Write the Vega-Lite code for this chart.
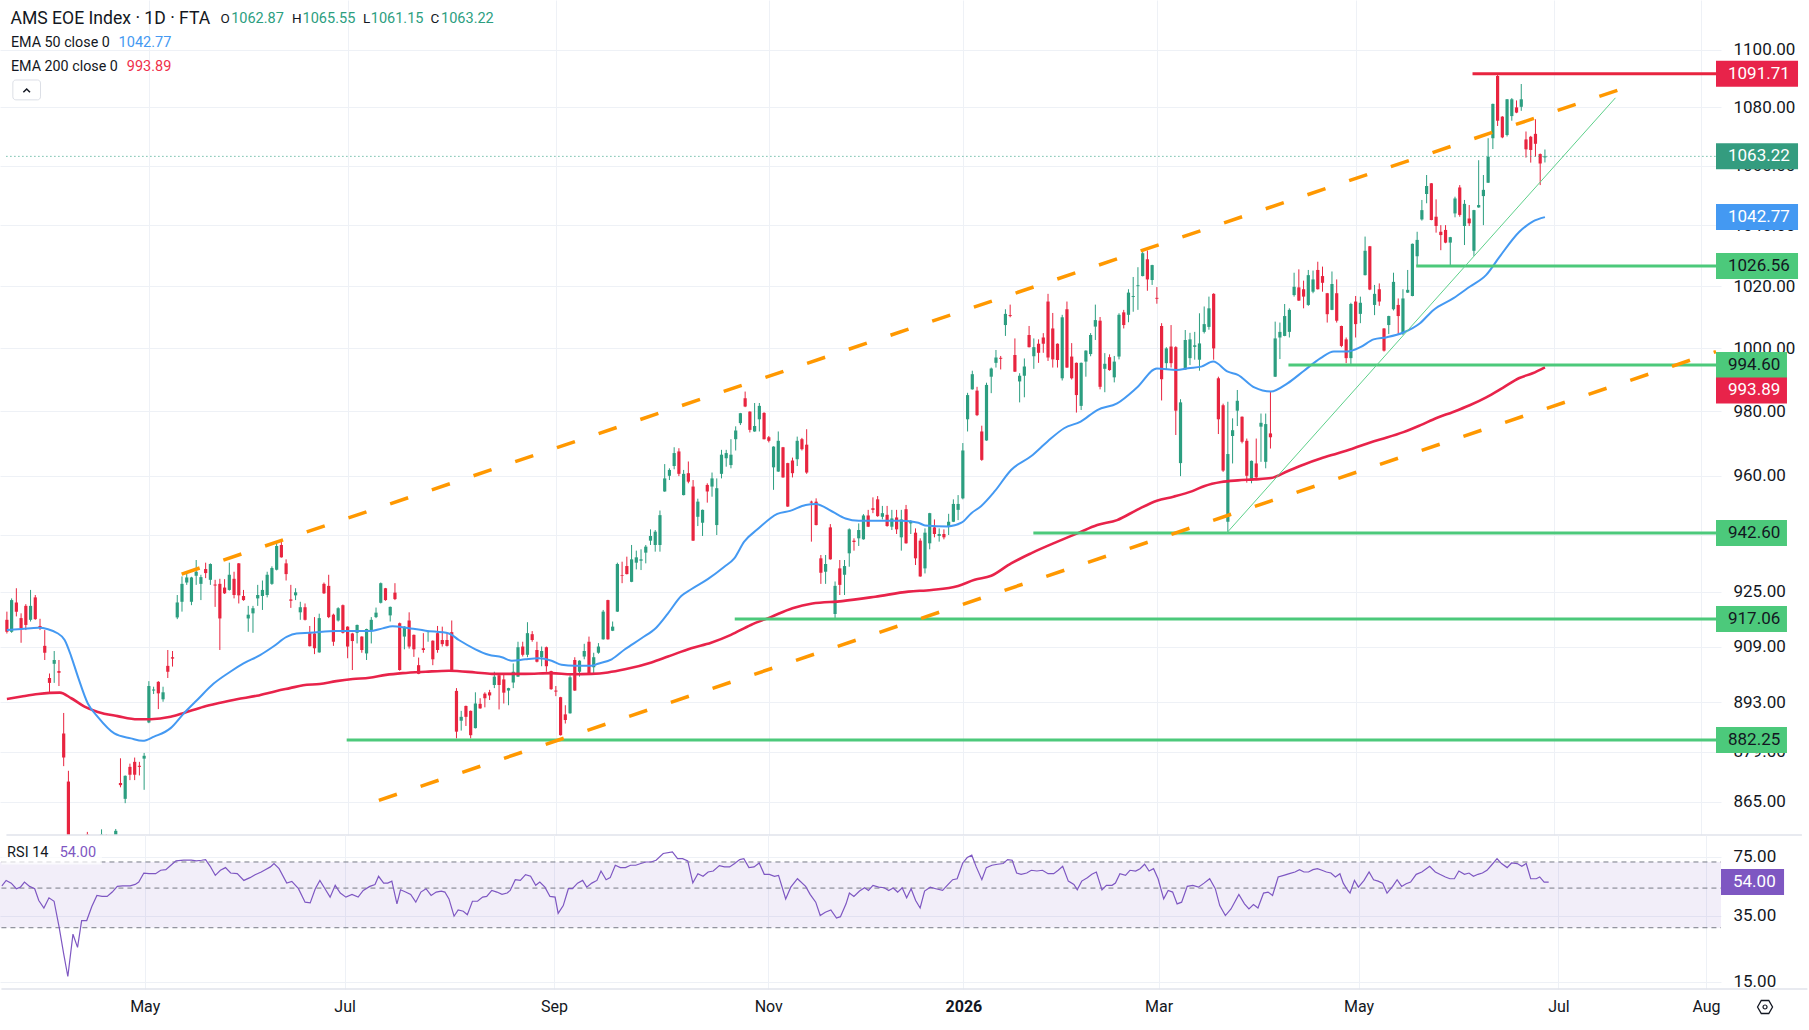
{
"$schema": "https://vega.github.io/schema/vega-lite/v6.json",
"padding": 0,
"background": "white",
"spacing": 0,
"bounds": "flush",
"config": {"view": {"stroke": null}, "font": "Roboto", "axis": {"gridColor": "#eef1f6", "gridWidth": 1, "labelColor": "#131722", "domain": false, "ticks": false, "tickSize": 0}},
"datasets": {
"candles": [
{"i":0,"o":916.8,"h":919.2,"l":912.8,"c":913.3},{"i":1,"o":913.3,"h":923.1,"l":913.0,"c":922.6},{"i":2,"o":921.9,"h":926.1,"l":917.8,"c":919.2},{"i":3,"o":917.3,"h":918.7,"l":910.1,"c":914.3},{"i":4,"o":920.9,"h":921.4,"l":913.8,"c":915.3},{"i":5,"o":916.8,"h":925.6,"l":916.3,"c":920.9},{"i":6,"o":923.4,"h":924.1,"l":916.8,"c":917.0},{"i":7,"o":915.0,"h":917.1,"l":913.8,"c":914.6},{"i":8,"o":909.2,"h":913.8,"l":905.1,"c":907.2},{"i":9,"o":899.9,"h":901.2,"l":895.5,"c":898.5},
{"i":10,"o":904.0,"h":907.7,"l":898.5,"c":905.1},{"i":11,"o":901.9,"h":905.1,"l":897.6,"c":901.4},{"i":12,"o":884.1,"h":889.9,"l":874.9,"c":877.3},{"i":13,"o":870.6,"h":873.6,"l":830.0,"c":836.0},{"i":14,"o":822,"h":830,"l":790,"c":815},{"i":15,"o":832,"h":846,"l":826,"c":838},{"i":16,"o":826,"h":836,"l":812,"c":820},{"i":17,"o":856,"h":856.7,"l":841,"c":846},{"i":18,"o":845,"h":851,"l":836,"c":849},{"i":19,"o":852,"h":855,"l":846,"c":853},
{"i":20,"o":850,"h":857.4,"l":848,"c":856},{"i":21,"o":855,"h":856,"l":845,"c":849},{"i":22,"o":850,"h":855,"l":846,"c":853},{"i":23,"o":849,"h":857.5,"l":845,"c":857},{"i":24,"o":870.2,"h":877.1,"l":869.0,"c":869.6},{"i":25,"o":865.8,"h":872.3,"l":864.6,"c":872.2},{"i":26,"o":874.7,"h":875.6,"l":871.0,"c":872.5},{"i":27,"o":876.1,"h":877.3,"l":871.0,"c":872.5},{"i":28,"o":875.0,"h":876.1,"l":872.3,"c":874.7},{"i":29,"o":877.0,"h":878.6,"l":868.3,"c":877.8},
{"i":30,"o":887.2,"h":899.0,"l":887.0,"c":897.6},{"i":31,"o":896.3,"h":897.4,"l":895.3,"c":896.6},{"i":32,"o":898.8,"h":899.0,"l":891.0,"c":895.5},{"i":33,"o":893.8,"h":897.4,"l":893.1,"c":895.8},{"i":34,"o":903.4,"h":908.0,"l":899.9,"c":901.7},{"i":35,"o":905.9,"h":907.7,"l":903.2,"c":905.5},{"i":36,"o":917.5,"h":924.1,"l":917.0,"c":921.9},{"i":37,"o":922.1,"h":929.6,"l":919.2,"c":927.4},{"i":38,"o":927.8,"h":931.0,"l":927.1,"c":929.3},{"i":39,"o":922.1,"h":929.5,"l":921.1,"c":929.3},
{"i":40,"o":929.8,"h":934.5,"l":927.1,"c":931.0},{"i":41,"o":927.4,"h":930.1,"l":922.6,"c":929.4},{"i":42,"o":931.8,"h":933.7,"l":929.1,"c":930.6},{"i":43,"o":928.6,"h":933.5,"l":927.1,"c":933.3},{"i":44,"o":927.2,"h":928.6,"l":920.6,"c":926.9},{"i":45,"o":927.4,"h":928.9,"l":908.0,"c":917.2},{"i":46,"o":926.3,"h":928.8,"l":924.4,"c":924.6},{"i":47,"o":925.6,"h":933.7,"l":925.4,"c":930.1},{"i":48,"o":928.9,"h":931.0,"l":923.1,"c":924.1},{"i":49,"o":933.5,"h":933.6,"l":921.6,"c":924.0},
{"i":50,"o":923.8,"h":925.6,"l":922.4,"c":922.6},{"i":51,"o":917.2,"h":920.9,"l":913.3,"c":918.3},{"i":52,"o":918.7,"h":920.9,"l":913.0,"c":920.2},{"i":53,"o":923.1,"h":927.1,"l":920.9,"c":924.1},{"i":54,"o":923.8,"h":928.4,"l":919.7,"c":925.6},{"i":55,"o":924.1,"h":931.0,"l":923.4,"c":930.1},{"i":56,"o":927.4,"h":932.6,"l":927.1,"c":932.1},{"i":57,"o":931.6,"h":940.0,"l":931.4,"c":938.7},{"i":58,"o":939.0,"h":940.5,"l":935.2,"c":935.3},{"i":59,"o":933.5,"h":934.7,"l":928.4,"c":930.3},
{"i":60,"o":922.8,"h":927.1,"l":920.3,"c":922.4},{"i":61,"o":924.0,"h":926.1,"l":922.6,"c":924.9},{"i":62,"o":919.0,"h":922.1,"l":916.8,"c":920.5},{"i":63,"o":920.5,"h":921.6,"l":916.6,"c":916.8},{"i":64,"o":913.0,"h":915.0,"l":909.0,"c":909.1},{"i":65,"o":912.8,"h":917.6,"l":906.8,"c":908.5},{"i":66,"o":907.3,"h":918.6,"l":907.2,"c":917.3},{"i":67,"o":927.4,"h":927.8,"l":924.4,"c":924.6},{"i":68,"o":926.8,"h":930.1,"l":917.3,"c":917.6},{"i":69,"o":918.3,"h":918.6,"l":909.2,"c":910.4},
{"i":70,"o":916.6,"h":920.5,"l":916.3,"c":920.2},{"i":71,"o":921.1,"h":921.3,"l":912.8,"c":913.0},{"i":72,"o":914.8,"h":914.9,"l":905.6,"c":909.0},{"i":73,"o":912.8,"h":913.0,"l":902.2,"c":910.6},{"i":74,"o":913.0,"h":915.4,"l":909.9,"c":915.3},{"i":75,"o":911.9,"h":912.0,"l":907.2,"c":908.0},{"i":76,"o":907.0,"h":914.2,"l":905.1,"c":914.1},{"i":77,"o":913.8,"h":917.6,"l":909.9,"c":916.8},{"i":78,"o":917.6,"h":920.4,"l":917.3,"c":918.9},{"i":79,"o":921.8,"h":927.8,"l":921.6,"c":927.6},
{"i":80,"o":926.1,"h":926.2,"l":922.4,"c":922.6},{"i":81,"o":918.1,"h":920.7,"l":916.3,"c":920.6},{"i":82,"o":924.8,"h":927.6,"l":922.6,"c":922.9},{"i":83,"o":915.8,"h":916.0,"l":902.0,"c":902.2},{"i":84,"o":911.9,"h":914.9,"l":908.2,"c":914.8},{"i":85,"o":916.6,"h":919.0,"l":908.4,"c":909.0},{"i":86,"o":912.4,"h":912.5,"l":906.0,"c":908.2},{"i":87,"o":903.6,"h":905.8,"l":901.0,"c":901.1},{"i":88,"o":908.5,"h":912.9,"l":907.2,"c":908.0},{"i":89,"o":913.2,"h":913.5,"l":910.4,"c":913.4},
{"i":90,"o":910.7,"h":910.8,"l":903.6,"c":905.3},{"i":91,"o":912.9,"h":915.0,"l":907.2,"c":908.0},{"i":92,"o":910.9,"h":914.8,"l":909.0,"c":909.7},{"i":93,"o":910.9,"h":912.9,"l":909.0,"c":909.2},{"i":94,"o":913.2,"h":916.6,"l":902.0,"c":902.1},{"i":95,"o":896.2,"h":897.0,"l":882.7,"c":884.6},{"i":96,"o":887.7,"h":890.5,"l":884.9,"c":888.8},{"i":97,"o":891.9,"h":892.0,"l":886.2,"c":888.8},{"i":98,"o":890.5,"h":890.6,"l":882.7,"c":883.6},{"i":99,"o":885.6,"h":895.8,"l":885.5,"c":892.6},
{"i":100,"o":892.5,"h":894.1,"l":891.1,"c":891.2},{"i":101,"o":895.4,"h":895.8,"l":891.5,"c":894.1},{"i":102,"o":895.8,"h":896.5,"l":893.6,"c":894.9},{"i":103,"o":897.9,"h":901.7,"l":897.0,"c":900.3},{"i":104,"o":900.7,"h":900.8,"l":890.9,"c":897.9},{"i":105,"o":899.5,"h":901.3,"l":892.6,"c":895.7},{"i":106,"o":896.3,"h":897.1,"l":892.1,"c":897.0},{"i":107,"o":898.6,"h":904.1,"l":897.0,"c":901.7},{"i":108,"o":900.3,"h":910.4,"l":900.2,"c":908.8},{"i":109,"o":909.0,"h":910.4,"l":906.1,"c":906.6},
{"i":110,"o":906.6,"h":916.1,"l":905.9,"c":912.9},{"i":111,"o":912.6,"h":913.5,"l":910.4,"c":910.9},{"i":112,"o":908.0,"h":910.4,"l":904.4,"c":904.6},{"i":113,"o":905.9,"h":909.0,"l":903.3,"c":907.7},{"i":114,"o":908.8,"h":909.0,"l":901.7,"c":903.3},{"i":115,"o":901.9,"h":902.0,"l":896.5,"c":896.7},{"i":116,"o":896.3,"h":897.6,"l":894.7,"c":896.0},{"i":117,"o":894.4,"h":894.5,"l":883.5,"c":883.6},{"i":118,"o":889.5,"h":892.1,"l":886.9,"c":887.9},{"i":119,"o":889.8,"h":900.7,"l":889.7,"c":900.1},
{"i":120,"o":905.1,"h":905.9,"l":896.2,"c":896.3},{"i":121,"o":901.7,"h":905.0,"l":900.3,"c":904.9},{"i":122,"o":906.1,"h":909.8,"l":905.3,"c":907.7},{"i":123,"o":910.4,"h":911.9,"l":901.0,"c":901.3},{"i":124,"o":903.0,"h":907.2,"l":901.1,"c":905.9},{"i":125,"o":907.2,"h":910.0,"l":906.9,"c":909.0},{"i":126,"o":911.1,"h":919.7,"l":911.0,"c":919.2},{"i":127,"o":922.6,"h":922.7,"l":911.0,"c":911.1},{"i":128,"o":913.6,"h":916.3,"l":913.5,"c":914.8},{"i":129,"o":919.2,"h":933.7,"l":919.1,"c":933.3},
{"i":130,"o":930.0,"h":934.0,"l":927.6,"c":929.8},{"i":131,"o":932.7,"h":935.5,"l":930.2,"c":930.3},{"i":132,"o":928.0,"h":939.0,"l":927.9,"c":934.7},{"i":133,"o":933.7,"h":937.3,"l":931.7,"c":935.3},{"i":134,"o":934.3,"h":937.7,"l":931.5,"c":934.7},{"i":135,"o":936.7,"h":939.0,"l":933.5,"c":938.5},{"i":136,"o":940.3,"h":943.7,"l":939.0,"c":941.7},{"i":137,"o":939.0,"h":943.5,"l":937.0,"c":943.0},{"i":138,"o":939.0,"h":949.4,"l":937.0,"c":948.0},{"i":139,"o":955.2,"h":963.6,"l":955.1,"c":959.2},
{"i":140,"o":960.0,"h":962.3,"l":958.7,"c":961.8},{"i":141,"o":963.0,"h":968.8,"l":962.0,"c":967.0},{"i":142,"o":967.5,"h":968.5,"l":959.9,"c":960.6},{"i":143,"o":954.1,"h":961.8,"l":954.0,"c":960.6},{"i":144,"o":960.8,"h":964.4,"l":957.7,"c":958.2},{"i":145,"o":956.7,"h":958.7,"l":940.2,"c":940.3},{"i":146,"o":947.5,"h":953.0,"l":944.7,"c":952.1},{"i":147,"o":945.7,"h":949.7,"l":941.7,"c":949.6},{"i":148,"o":957.2,"h":957.7,"l":951.8,"c":955.2},{"i":149,"o":956.7,"h":961.0,"l":953.6,"c":959.2},
{"i":150,"o":945.0,"h":959.2,"l":942.0,"c":956.2},{"i":151,"o":960.6,"h":968.0,"l":959.2,"c":966.5},{"i":152,"o":965.4,"h":968.0,"l":962.8,"c":967.0},{"i":153,"o":963.3,"h":971.3,"l":962.3,"c":966.5},{"i":154,"o":971.3,"h":975.3,"l":967.8,"c":974.0},{"i":155,"o":976.3,"h":979.5,"l":975.7,"c":979.4},{"i":156,"o":984.1,"h":986.2,"l":981.3,"c":981.5},{"i":157,"o":979.9,"h":980.0,"l":973.4,"c":974.2},{"i":158,"o":973.7,"h":982.6,"l":973.6,"c":975.4},{"i":159,"o":977.5,"h":982.6,"l":973.7,"c":981.7},
{"i":160,"o":979.5,"h":979.7,"l":971.2,"c":971.3},{"i":161,"o":971.9,"h":972.3,"l":970.3,"c":970.8},{"i":162,"o":962.6,"h":969.1,"l":955.7,"c":969.0},{"i":163,"o":961.3,"h":973.7,"l":961.2,"c":970.8},{"i":164,"o":968.8,"h":968.9,"l":959.4,"c":959.5},{"i":165,"o":963.9,"h":964.0,"l":950.5,"c":950.6},{"i":166,"o":964.7,"h":965.6,"l":959.5,"c":960.8},{"i":167,"o":965.1,"h":972.1,"l":963.0,"c":970.8},{"i":168,"o":971.3,"h":971.7,"l":967.8,"c":968.2},{"i":169,"o":969.6,"h":974.4,"l":960.6,"c":961.0},
{"i":170,"o":952.1,"h":952.4,"l":940.0,"c":951.8},{"i":171,"o":952.1,"h":953.1,"l":944.9,"c":945.0},{"i":172,"o":935.0,"h":936.0,"l":927.4,"c":930.7},{"i":173,"o":931.0,"h":936.0,"l":927.4,"c":933.3},{"i":174,"o":944.3,"h":945.3,"l":934.6,"c":934.7},{"i":175,"o":918.5,"h":928.1,"l":917.3,"c":926.8},{"i":176,"o":932.0,"h":934.5,"l":924.1,"c":927.1},{"i":177,"o":930.1,"h":934.5,"l":924.1,"c":932.7},{"i":178,"o":936.5,"h":944.0,"l":932.5,"c":943.7},{"i":179,"o":940.3,"h":941.0,"l":937.3,"c":939.9},
{"i":180,"o":941.0,"h":945.5,"l":938.7,"c":943.5},{"i":181,"o":940.7,"h":948.3,"l":940.6,"c":947.9},{"i":182,"o":947.9,"h":949.6,"l":944.4,"c":944.5},{"i":183,"o":950.1,"h":953.4,"l":948.6,"c":949.6},{"i":184,"o":952.8,"h":953.8,"l":947.5,"c":947.7},{"i":185,"o":947.5,"h":950.8,"l":946.7,"c":948.6},{"i":186,"o":948.1,"h":950.8,"l":944.5,"c":944.7},{"i":187,"o":944.5,"h":949.6,"l":943.5,"c":947.0},{"i":188,"o":947.3,"h":949.6,"l":942.3,"c":943.7},{"i":189,"o":941.3,"h":949.6,"l":937.3,"c":946.7},
{"i":190,"o":949.8,"h":951.1,"l":939.4,"c":939.5},{"i":191,"o":945.5,"h":946.5,"l":942.3,"c":946.0},{"i":192,"o":942.7,"h":944.0,"l":933.0,"c":935.0},{"i":193,"o":940.3,"h":941.0,"l":929.5,"c":929.6},{"i":194,"o":932.0,"h":944.0,"l":930.5,"c":942.7},{"i":195,"o":939.5,"h":948.7,"l":937.7,"c":948.6},{"i":196,"o":944.3,"h":946.7,"l":941.3,"c":942.3},{"i":197,"o":941.7,"h":944.0,"l":940.0,"c":942.3},{"i":198,"o":942.3,"h":943.7,"l":940.7,"c":941.3},{"i":199,"o":944.5,"h":948.4,"l":942.0,"c":946.0},
{"i":200,"o":946.0,"h":952.8,"l":945.9,"c":951.4},{"i":201,"o":949.6,"h":954.1,"l":946.5,"c":951.4},{"i":202,"o":953.1,"h":970.1,"l":952.8,"c":967.8},{"i":203,"o":977.5,"h":985.8,"l":973.7,"c":985.1},{"i":204,"o":986.9,"h":992.8,"l":986.8,"c":991.7},{"i":205,"o":986.5,"h":987.7,"l":978.5,"c":978.8},{"i":206,"o":973.7,"h":975.5,"l":964.6,"c":964.9},{"i":207,"o":970.9,"h":989.0,"l":970.8,"c":988.3},{"i":208,"o":990.9,"h":993.8,"l":985.7,"c":993.5},{"i":209,"o":995.3,"h":999.4,"l":993.8,"c":997.0},
{"i":210,"o":996.9,"h":997.5,"l":993.2,"c":996.6},{"i":211,"o":1007.4,"h":1012.5,"l":1003.9,"c":1011.0},{"i":212,"o":1010.6,"h":1014.0,"l":1009.9,"c":1010.3},{"i":213,"o":997.8,"h":1003.1,"l":992.4,"c":992.5},{"i":214,"o":989.4,"h":992.0,"l":982.8,"c":991.2},{"i":215,"o":991.2,"h":996.7,"l":984.4,"c":994.1},{"i":216,"o":1004.2,"h":1007.1,"l":1000.2,"c":1000.3},{"i":217,"o":997.4,"h":1003.1,"l":993.4,"c":1000.3},{"i":218,"o":1001.4,"h":1002.8,"l":995.3,"c":998.5},{"i":219,"o":1003.4,"h":1004.8,"l":998.5,"c":1001.4},
{"i":220,"o":1015.0,"h":1017.5,"l":995.9,"c":997.0},{"i":221,"o":1006.3,"h":1011.3,"l":993.8,"c":996.4},{"i":222,"o":1001.4,"h":1001.5,"l":993.8,"c":996.2},{"i":223,"o":990.4,"h":1010.7,"l":989.7,"c":1009.9},{"i":224,"o":1012.5,"h":1015.0,"l":993.7,"c":993.8},{"i":225,"o":997.3,"h":1001.6,"l":990.0,"c":990.4},{"i":226,"o":995.3,"h":995.4,"l":979.6,"c":985.1},{"i":227,"o":981.7,"h":995.4,"l":980.4,"c":995.3},{"i":228,"o":995.7,"h":999.3,"l":990.9,"c":999.2},{"i":229,"o":998.1,"h":1004.8,"l":997.4,"c":1004.2},
{"i":230,"o":1006.9,"h":1014.0,"l":1002.6,"c":1009.0},{"i":231,"o":1008.8,"h":1010.0,"l":986.9,"c":987.7},{"i":232,"o":993.4,"h":998.4,"l":986.0,"c":995.0},{"i":233,"o":997.1,"h":998.0,"l":992.8,"c":993.0},{"i":234,"o":990.7,"h":997.5,"l":989.1,"c":995.7},{"i":235,"o":997.3,"h":1011.2,"l":996.4,"c":1010.7},{"i":236,"o":1011.5,"h":1012.3,"l":1006.3,"c":1007.4},{"i":237,"o":1010.7,"h":1019.0,"l":1008.3,"c":1017.9},{"i":238,"o":1016.5,"h":1023.0,"l":1011.7,"c":1016.8},{"i":239,"o":1020.0,"h":1026.2,"l":1012.3,"c":1020.3},
{"i":240,"o":1023.3,"h":1031.7,"l":1023.2,"c":1030.8},{"i":241,"o":1028.8,"h":1031.7,"l":1018.5,"c":1022.2},{"i":242,"o":1022.0,"h":1027.0,"l":1020.4,"c":1026.9},{"i":243,"o":1016.2,"h":1019.7,"l":1014.3,"c":1015.9},{"i":244,"o":1007.1,"h":1008.0,"l":983.4,"c":990.1},{"i":245,"o":995.2,"h":1000.3,"l":993.2,"c":999.9},{"i":246,"o":1000.5,"h":1007.4,"l":993.8,"c":995.2},{"i":247,"o":1000.3,"h":1000.6,"l":972.6,"c":980.2},{"i":248,"o":963.9,"h":983.8,"l":959.9,"c":982.8},{"i":249,"o":993.2,"h":1005.8,"l":993.1,"c":1002.6},
{"i":250,"o":996.8,"h":1004.9,"l":994.6,"c":1002.8},{"i":251,"o":1000.4,"h":1005.2,"l":996.3,"c":1000.9},{"i":252,"o":996.3,"h":1011.2,"l":992.8,"c":1001.5},{"i":253,"o":1005.2,"h":1013.4,"l":1004.7,"c":1007.7},{"i":254,"o":1006.8,"h":1016.6,"l":1005.9,"c":1012.8},{"i":255,"o":1017.5,"h":1017.7,"l":996.3,"c":999.9},{"i":256,"o":990.4,"h":990.9,"l":972.9,"c":977.5},{"i":257,"o":981.9,"h":982.4,"l":961.2,"c":961.6},{"i":258,"o":946.0,"h":983.0,"l":942.6,"c":966.7},{"i":259,"o":972.3,"h":977.8,"l":963.8,"c":974.1},
{"i":260,"o":980.2,"h":986.7,"l":975.4,"c":983.3},{"i":261,"o":978.3,"h":978.4,"l":970.0,"c":970.5},{"i":262,"o":970.8,"h":971.5,"l":957.9,"c":960.0},{"i":263,"o":958.7,"h":964.7,"l":957.7,"c":964.6},{"i":264,"o":963.8,"h":971.5,"l":958.7,"c":959.5},{"i":265,"o":975.2,"h":979.3,"l":964.3,"c":976.4},{"i":266,"o":964.3,"h":979.3,"l":962.3,"c":976.0},{"i":267,"o":973.1,"h":986.2,"l":968.4,"c":971.9},{"i":268,"o":990.9,"h":1008.5,"l":990.8,"c":1003.1},{"i":269,"o":1003.4,"h":1008.2,"l":996.5,"c":1005.2},
{"i":270,"o":1003.9,"h":1014.2,"l":1003.8,"c":1010.3},{"i":271,"o":1005.2,"h":1012.8,"l":1003.4,"c":1012.3},{"i":272,"o":1017.1,"h":1024.4,"l":1016.6,"c":1019.8},{"i":273,"o":1019.6,"h":1025.5,"l":1015.2,"c":1015.3},{"i":274,"o":1019.0,"h":1021.8,"l":1012.8,"c":1016.6},{"i":275,"o":1013.9,"h":1025.3,"l":1013.6,"c":1023.6},{"i":276,"o":1018.2,"h":1025.1,"l":1017.7,"c":1022.2},{"i":277,"o":1025.3,"h":1028.0,"l":1018.9,"c":1019.0},{"i":278,"o":1023.3,"h":1026.4,"l":1018.2,"c":1021.1},{"i":279,"o":1017.7,"h":1017.8,"l":1008.2,"c":1010.9},
{"i":280,"o":1012.3,"h":1024.8,"l":1012.2,"c":1020.7},{"i":281,"o":1017.7,"h":1022.2,"l":1008.2,"c":1008.8},{"i":282,"o":1007.1,"h":1007.2,"l":1000.3,"c":1000.7},{"i":283,"o":1002.8,"h":1003.4,"l":995.2,"c":996.8},{"i":284,"o":996.8,"h":1014.6,"l":994.9,"c":1014.2},{"i":285,"o":1015.0,"h":1016.8,"l":1003.4,"c":1007.7},{"i":286,"o":1011.0,"h":1016.6,"l":1008.0,"c":1014.6},{"i":287,"o":1023.6,"h":1036.3,"l":1023.5,"c":1031.6},{"i":288,"o":1033.1,"h":1033.2,"l":1018.7,"c":1018.9},{"i":289,"o":1013.9,"h":1020.4,"l":1010.6,"c":1017.5},
{"i":290,"o":1019.0,"h":1020.9,"l":1013.6,"c":1015.0},{"i":291,"o":1006.3,"h":1006.4,"l":998.9,"c":999.2},{"i":292,"o":1007.4,"h":1010.4,"l":1004.5,"c":1010.3},{"i":293,"o":1012.5,"h":1024.4,"l":1012.1,"c":1021.4},{"i":294,"o":1013.9,"h":1016.0,"l":1004.5,"c":1010.3},{"i":295,"o":1004.7,"h":1019.0,"l":1004.2,"c":1016.0},{"i":296,"o":1017.9,"h":1025.3,"l":1017.8,"c":1018.8},{"i":297,"o":1016.8,"h":1034.0,"l":1016.7,"c":1033.9},{"i":298,"o":1029.8,"h":1037.9,"l":1026.6,"c":1035.2},{"i":299,"o":1042.0,"h":1048.5,"l":1041.6,"c":1045.1},
{"i":300,"o":1050.5,"h":1056.9,"l":1047.4,"c":1053.2},{"i":301,"o":1054.1,"h":1054.2,"l":1041.7,"c":1041.8},{"i":302,"o":1042.9,"h":1048.7,"l":1037.6,"c":1039.8},{"i":303,"o":1037.9,"h":1040.1,"l":1031.8,"c":1036.8},{"i":304,"o":1038.5,"h":1040.1,"l":1034.1,"c":1034.3},{"i":305,"o":1034.3,"h":1036.2,"l":1026.9,"c":1036.1},{"i":306,"o":1044.0,"h":1049.6,"l":1042.7,"c":1049.0},{"i":307,"o":1052.7,"h":1053.5,"l":1042.9,"c":1043.5},{"i":308,"o":1039.8,"h":1048.5,"l":1033.5,"c":1047.2},{"i":309,"o":1042.3,"h":1046.8,"l":1039.8,"c":1040.7},
{"i":310,"o":1031.6,"h":1045.2,"l":1029.9,"c":1045.1},{"i":311,"o":1046.0,"h":1061.9,"l":1045.9,"c":1046.8},{"i":312,"o":1049.8,"h":1056.9,"l":1040.1,"c":1051.9},{"i":313,"o":1054.3,"h":1069.4,"l":1054.2,"c":1063.1},{"i":314,"o":1069.4,"h":1081.3,"l":1065.7,"c":1081.2},{"i":315,"o":1090.9,"h":1091.71,"l":1073.6,"c":1075.4},{"i":316,"o":1076.8,"h":1077.0,"l":1069.4,"c":1069.7},{"i":317,"o":1070.5,"h":1082.9,"l":1070.0,"c":1082.8},{"i":318,"o":1077.0,"h":1083.2,"l":1075.4,"c":1082.8},{"i":319,"o":1080.0,"h":1082.4,"l":1078.0,"c":1078.2},
{"i":320,"o":1080.2,"h":1088.1,"l":1078.8,"c":1082.8},{"i":321,"o":1069.0,"h":1071.7,"l":1062.8,"c":1065.6},{"i":322,"o":1069.9,"h":1070.2,"l":1061.1,"c":1065.4},{"i":323,"o":1070.9,"h":1075.9,"l":1063.1,"c":1067.5},{"i":324,"o":1064.0,"h":1064.2,"l":1053.5,"c":1060.8},{"i":325,"o":1062.87,"h":1065.55,"l":1061.15,"c":1063.22}
],
"ema50": [
{"i":0,"v":913.8},{"i":3.1,"v":914.1},{"i":6.6,"v":914.5},{"i":10.8,"v":912.8},{"i":12.2,"v":910.9},{"i":13.6,"v":906.1},{"i":15.0,"v":900.3},{"i":17.1,"v":892.6},{"i":19.2,"v":888.8},{"i":22.7,"v":884.1},{"i":26.2,"v":882.7},{"i":28.7,"v":882.0},{"i":31.1,"v":883.2},{"i":34.6,"v":885.6},{"i":37.4,"v":889.8},{"i":40.2,"v":893.6},{"i":43.7,"v":898.3},{"i":47.2,"v":901.7},{"i":50.0,"v":904.1},{"i":53.5,"v":906.5},{"i":56.3,"v":909.0},{"i":59.1,"v":911.8},{"i":61.2,"v":912.8},{"i":64.0,"v":913.0},{"i":69.6,"v":913.5},{"i":76.6,"v":913.5},{"i":79.4,"v":914.3},{"i":81.5,"v":914.9},{"i":84.3,"v":914.5},{"i":88.5,"v":913.6},{"i":93.4,"v":912.8},{"i":95.5,"v":910.9},{"i":99.0,"v":908.2},{"i":101.8,"v":906.6},{"i":104.6,"v":905.9},{"i":106.7,"v":904.9},{"i":109.5,"v":905.3},{"i":112.3,"v":905.6},{"i":115.1,"v":904.9},{"i":117.2,"v":903.7},{"i":120.0,"v":903.4},{"i":123.5,"v":903.4},{"i":124.9,"v":904.0},{"i":127.8,"v":905.3},{"i":130.6,"v":908.2},{"i":134.1,"v":911.4},{"i":137.2,"v":914.5},{"i":139.7,"v":918.7},{"i":142.5,"v":923.8},{"i":144.6,"v":925.8},{"i":148.1,"v":928.8},{"i":151.6,"v":932.5},{"i":153.7,"v":935.0},{"i":155.8,"v":940.0},{"i":158.6,"v":943.7},{"i":162.8,"v":948.4},{"i":165.5,"v":949.3},{"i":168.8,"v":951.1},{"i":170.9,"v":951.4},{"i":174.4,"v":949.1},{"i":177.2,"v":947.0},{"i":180.0,"v":946.3},{"i":184.2,"v":946.3},{"i":189.1,"v":946.3},{"i":192.6,"v":945.7},{"i":194.0,"v":944.9},{"i":198.9,"v":944.6},{"i":201.7,"v":945.7},{"i":203.8,"v":948.6},{"i":205.9,"v":950.8},{"i":208.7,"v":955.2},{"i":212.2,"v":961.8},{"i":216.4,"v":966.0},{"i":219.9,"v":970.6},{"i":223.4,"v":974.7},{"i":226.9,"v":976.8},{"i":230.4,"v":980.4},{"i":234.6,"v":982.5},{"i":238.8,"v":987.5},{"i":243.0,"v":993.5},{"i":247.2,"v":993.0},{"i":249.6,"v":993.6},{"i":252.4,"v":994.1},{"i":254.9,"v":995.7},{"i":258.0,"v":992.5},{"i":260.1,"v":991.5},{"i":263.6,"v":987.5},{"i":267.1,"v":986.2},{"i":270.6,"v":988.8},{"i":274.1,"v":992.8},{"i":277.6,"v":996.8},{"i":280.4,"v":998.9},{"i":283.2,"v":998.9},{"i":286.0,"v":1000.3},{"i":288.8,"v":1002.8},{"i":291.6,"v":1003.5},{"i":295.1,"v":1005.0},{"i":298.6,"v":1008.0},{"i":301.4,"v":1012.2},{"i":305.6,"v":1016.0},{"i":309.1,"v":1019.8},{"i":312.6,"v":1023.7},{"i":315.4,"v":1029.6},{"i":319.6,"v":1037.9},{"i":322.4,"v":1041.3},{"i":325.0,"v":1042.77}
],
"ema200": [
{"i":0,"v":893.9},{"i":3.1,"v":894.6},{"i":6.6,"v":895.3},{"i":11.2,"v":895.7},{"i":13.6,"v":894.1},{"i":16.4,"v":891.7},{"i":19.2,"v":890.2},{"i":23.4,"v":889.0},{"i":27.6,"v":888.1},{"i":30.4,"v":888.1},{"i":34.6,"v":888.8},{"i":37.4,"v":889.9},{"i":41.6,"v":891.7},{"i":45.1,"v":892.8},{"i":48.6,"v":893.8},{"i":52.8,"v":894.8},{"i":57.0,"v":896.2},{"i":59.8,"v":897.0},{"i":62.6,"v":897.8},{"i":66.1,"v":898.2},{"i":69.6,"v":899.0},{"i":73.1,"v":899.6},{"i":76.6,"v":900.0},{"i":80.1,"v":900.8},{"i":83.6,"v":901.3},{"i":88.5,"v":901.7},{"i":93.4,"v":902.0},{"i":99.0,"v":901.5},{"i":102.5,"v":901.1},{"i":109.5,"v":901.1},{"i":115.1,"v":901.3},{"i":119.3,"v":901.0},{"i":123.5,"v":901.1},{"i":127.0,"v":901.5},{"i":130.6,"v":902.4},{"i":136.2,"v":904.4},{"i":139.7,"v":906.1},{"i":144.6,"v":908.5},{"i":148.8,"v":910.1},{"i":153.0,"v":912.4},{"i":157.2,"v":915.3},{"i":161.4,"v":917.6},{"i":166.0,"v":920.2},{"i":170.2,"v":921.6},{"i":176.5,"v":922.3},{"i":183.5,"v":923.6},{"i":190.5,"v":925.1},{"i":195.4,"v":925.6},{"i":201.0,"v":926.8},{"i":204.5,"v":928.6},{"i":208.0,"v":929.8},{"i":212.2,"v":933.5},{"i":216.4,"v":936.5},{"i":222.0,"v":940.0},{"i":226.2,"v":942.5},{"i":230.4,"v":945.0},{"i":234.6,"v":946.5},{"i":238.8,"v":949.6},{"i":243.0,"v":952.4},{"i":246.5,"v":953.6},{"i":250.5,"v":955.3},{"i":253.1,"v":956.9},{"i":256.6,"v":958.1},{"i":260.1,"v":958.6},{"i":263.6,"v":958.9},{"i":267.1,"v":959.3},{"i":270.6,"v":961.4},{"i":274.1,"v":963.5},{"i":277.6,"v":965.3},{"i":281.1,"v":966.9},{"i":284.6,"v":968.5},{"i":288.1,"v":970.3},{"i":291.6,"v":971.8},{"i":295.1,"v":973.5},{"i":298.6,"v":975.6},{"i":302.1,"v":977.9},{"i":305.6,"v":979.8},{"i":309.1,"v":981.9},{"i":312.6,"v":984.4},{"i":316.1,"v":987.4},{"i":319.6,"v":990.5},{"i":322.4,"v":992.0},{"i":325.0,"v":993.89}
],
"rsi": [
{"i":0,"r":51.5},{"i":0.89,"r":55.2},{"i":1.96,"r":53.3},{"i":3.03,"r":49.6},{"i":3.89,"r":50.6},{"i":4.74,"r":54.0},{"i":5.82,"r":51.1},{"i":6.89,"r":49.6},{"i":7.75,"r":42.6},{"i":8.82,"r":38.7},{"i":9.89,"r":44.1},{"i":10.96,"r":42.2},{"i":12.03,"r":30.1},{"i":13.0,"r":21.3},{"i":13.85,"r":16.0},{"i":14.93,"r":27.6},{"i":15.89,"r":23.3},{"i":16.75,"r":32.9},{"i":17.82,"r":32.9},{"i":18.89,"r":39.4},{"i":19.96,"r":45.5},{"i":21.04,"r":44.9},{"i":22.11,"r":44.9},{"i":23.18,"r":47.5},{"i":24.25,"r":51.1},{"i":25.32,"r":51.5},{"i":26.93,"r":51.5},{"i":28.0,"r":52.4},{"i":28.75,"r":54.0},{"i":29.82,"r":60.7},{"i":30.9,"r":60.2},{"i":32.29,"r":60.2},{"i":33.36,"r":62.9},{"i":34.43,"r":63.4},{"i":35.5,"r":67.1},{"i":36.58,"r":71.0},{"i":38.19,"r":71.6},{"i":39.79,"r":71.6},{"i":40.86,"r":71.0},{"i":41.94,"r":71.6},{"i":42.79,"r":72.2},{"i":43.76,"r":66.2},{"i":44.83,"r":58.9},{"i":45.9,"r":62.9},{"i":46.97,"r":65.1},{"i":48.05,"r":60.7},{"i":49.44,"r":60.2},{"i":50.83,"r":55.2},{"i":52.12,"r":57.2},{"i":53.19,"r":59.4},{"i":54.48,"r":61.5},{"i":55.33,"r":63.4},{"i":56.41,"r":65.7},{"i":57.16,"r":68.6},{"i":58.23,"r":64.2},{"i":59.84,"r":53.3},{"i":60.91,"r":54.5},{"i":62.3,"r":49.6},{"i":63.69,"r":41.7},{"i":64.77,"r":41.3},{"i":65.84,"r":49.6},{"i":66.8,"r":55.2},{"i":67.87,"r":49.6},{"i":68.95,"r":44.5},{"i":70.02,"r":51.8},{"i":71.09,"r":46.9},{"i":72.27,"r":44.5},{"i":73.55,"r":46.1},{"i":74.84,"r":44.5},{"i":75.91,"r":48.5},{"i":77.3,"r":51.1},{"i":78.38,"r":52.4},{"i":79.13,"r":58.2},{"i":80.2,"r":53.3},{"i":81.06,"r":53.3},{"i":81.92,"r":54.7},{"i":82.99,"r":40.8},{"i":83.74,"r":48.9},{"i":84.81,"r":47.5},{"i":85.88,"r":46.1},{"i":86.95,"r":41.7},{"i":88.02,"r":47.5},{"i":89.1,"r":49.6},{"i":90.17,"r":45.5},{"i":91.24,"r":47.5},{"i":92.31,"r":48.1},{"i":93.06,"r":47.5},{"i":93.92,"r":43.5},{"i":94.99,"r":34.8},{"i":95.85,"r":37.7},{"i":96.92,"r":37.1},{"i":97.78,"r":35.5},{"i":98.85,"r":42.2},{"i":99.92,"r":42.2},{"i":100.99,"r":44.5},{"i":101.85,"r":44.9},{"i":102.92,"r":48.5},{"i":103.99,"r":47.5},{"i":105.07,"r":46.1},{"i":106.14,"r":46.9},{"i":106.78,"r":48.5},{"i":107.85,"r":55.7},{"i":108.92,"r":55.2},{"i":110.0,"r":59.4},{"i":111.07,"r":58.2},{"i":112.14,"r":51.8},{"i":113.0,"r":54.0},{"i":114.07,"r":50.6},{"i":115.14,"r":44.9},{"i":116.21,"r":44.5},{"i":116.86,"r":36.1},{"i":117.93,"r":39.9},{"i":119.0,"r":49.6},{"i":119.86,"r":49.6},{"i":120.93,"r":53.3},{"i":122.0,"r":55.2},{"i":122.86,"r":50.6},{"i":123.93,"r":53.3},{"i":125.0,"r":55.2},{"i":125.86,"r":62.3},{"i":126.93,"r":55.7},{"i":127.79,"r":57.2},{"i":128.86,"r":67.1},{"i":129.93,"r":65.1},{"i":131.0,"r":65.1},{"i":132.07,"r":67.1},{"i":133.15,"r":67.1},{"i":134.22,"r":68.6},{"i":135.29,"r":70.0},{"i":136.36,"r":70.0},{"i":137.43,"r":71.6},{"i":138.93,"r":78.1},{"i":140.86,"r":79.7},{"i":141.94,"r":73.1},{"i":143.0,"r":73.1},{"i":144.08,"r":71.0},{"i":145.15,"r":53.5},{"i":146.22,"r":60.2},{"i":147.3,"r":58.2},{"i":148.37,"r":61.5},{"i":149.44,"r":62.3},{"i":150.73,"r":66.8},{"i":151.8,"r":65.7},{"i":152.87,"r":65.7},{"i":153.94,"r":68.6},{"i":155.01,"r":72.2},{"i":155.87,"r":73.1},{"i":156.94,"r":65.1},{"i":158.02,"r":65.7},{"i":159.09,"r":69.1},{"i":160.16,"r":59.7},{"i":161.23,"r":59.7},{"i":162.3,"r":58.2},{"i":163.16,"r":58.9},{"i":164.66,"r":43.5},{"i":165.73,"r":50.6},{"i":167.13,"r":56.4},
{"i":168.85,"r":51.1},{"i":169.79,"r":46.1},{"i":170.97,"r":41.7},{"i":171.91,"r":35.1},{"i":172.98,"r":36.6},{"i":174.15,"r":37.7},{"i":175.33,"r":34.0},{"i":176.16,"r":34.6},{"i":177.34,"r":40.8},{"i":178.04,"r":46.9},{"i":178.99,"r":44.9},{"i":180.17,"r":48.1},{"i":181.23,"r":50.2},{"i":182.05,"r":48.5},{"i":183.0,"r":51.8},{"i":184.18,"r":50.6},{"i":185.36,"r":50.2},{"i":186.3,"r":48.5},{"i":187.24,"r":50.0},{"i":188.18,"r":47.5},{"i":189.13,"r":50.2},{"i":190.07,"r":44.1},{"i":191.01,"r":49.6},{"i":191.96,"r":42.6},{"i":192.9,"r":38.7},{"i":193.84,"r":48.1},{"i":195.02,"r":50.6},{"i":196.2,"r":49.6},{"i":197.62,"r":48.5},{"i":198.79,"r":52.4},{"i":199.74,"r":55.7},{"i":200.68,"r":56.4},{"i":201.86,"r":69.1},{"i":202.8,"r":74.1},{"i":203.75,"r":76.4},{"i":204.69,"r":65.7},{"i":205.87,"r":55.7},{"i":206.81,"r":65.1},{"i":207.99,"r":67.1},{"i":209.17,"r":68.0},{"i":210.35,"r":68.6},{"i":211.29,"r":72.2},{"i":212.24,"r":71.6},{"i":213.18,"r":60.7},{"i":214.12,"r":59.7},{"i":215.3,"r":60.7},{"i":216.25,"r":62.9},{"i":217.43,"r":62.3},{"i":218.6,"r":62.9},{"i":219.78,"r":60.2},{"i":220.96,"r":60.2},{"i":221.91,"r":62.9},{"i":222.85,"r":66.2},{"i":224.03,"r":54.7},{"i":225.21,"r":52.4},{"i":225.91,"r":48.9},{"i":226.85,"r":54.7},{"i":228.03,"r":57.2},{"i":228.98,"r":59.7},{"i":229.92,"r":61.5},{"i":231.1,"r":48.9},{"i":232.04,"r":51.8},{"i":233.22,"r":51.8},{"i":233.93,"r":53.3},{"i":234.87,"r":60.2},{"i":236.05,"r":58.9},{"i":236.99,"r":62.9},{"i":238.17,"r":62.3},{"i":239.11,"r":64.2},{"i":240.06,"r":68.0},{"i":241.0,"r":62.3},{"i":241.94,"r":64.2},{"i":242.89,"r":56.4},{"i":244.07,"r":43.5},{"i":245.01,"r":48.5},{"i":245.95,"r":47.5},{"i":246.89,"r":40.8},{"i":247.84,"r":41.7},{"i":249.02,"r":51.1},{"i":250.19,"r":51.8},{"i":251.37,"r":50.6},{"i":252.55,"r":53.3},{"i":253.73,"r":56.4},{"i":254.91,"r":49.6},{"i":255.85,"r":39.9},{"i":257.03,"r":35.1},{"i":258.21,"r":38.2},{"i":259.86,"r":46.1},{"i":261.04,"r":40.8},{"i":261.98,"r":38.2},{"i":262.93,"r":40.4},{"i":263.87,"r":38.7},{"i":265.05,"r":46.9},{"i":265.99,"r":47.5},{"i":266.94,"r":45.5},{"i":268.12,"r":57.7},{"i":269.29,"r":58.9},{"i":270.47,"r":60.2},{"i":271.65,"r":61.5},{"i":272.6,"r":63.4},{"i":273.54,"r":61.5},{"i":274.48,"r":61.5},{"i":275.43,"r":63.4},{"i":276.37,"r":64.2},{"i":277.31,"r":62.9},{"i":278.26,"r":61.5},{"i":279.2,"r":60.7},{"i":280.14,"r":57.7},{"i":281.09,"r":60.2},{"i":281.79,"r":53.3},{"i":282.74,"r":48.5},{"i":283.21,"r":46.9},{"i":284.15,"r":55.2},{"i":284.98,"r":50.6},{"i":286.16,"r":55.2},{"i":287.22,"r":61.5},{"i":288.16,"r":55.7},{"i":289.11,"r":54.7},{"i":290.05,"r":53.3},{"i":290.99,"r":46.9},{"i":292.17,"r":51.1},{"i":293.11,"r":55.7},{"i":294.06,"r":51.1},{"i":295.0,"r":52.9},{"i":295.94,"r":54.0},{"i":297.12,"r":59.7},{"i":298.3,"r":61.5},{"i":299.95,"r":66.2},{"i":301.13,"r":61.5},{"i":302.07,"r":59.7},{"i":303.25,"r":57.7},{"i":304.2,"r":56.4},{"i":305.14,"r":56.4},{"i":306.08,"r":62.3},{"i":307.26,"r":59.7},{"i":308.2,"r":60.7},{"i":309.15,"r":58.2},{"i":310.09,"r":59.7},{"i":311.03,"r":60.7},{"i":311.98,"r":62.9},{"i":312.92,"r":67.1},{"i":314.1,"r":73.1},{"i":315.04,"r":68.6},{"i":316.22,"r":65.1},{"i":317.16,"r":69.1},{"i":318.34,"r":68.6},{"i":319.29,"r":66.2},{"i":320.23,"r":68.6},{"i":321.17,"r":56.4},{"i":322.35,"r":56.4},{"i":323.06,"r":57.7},{"i":324.0,"r":54.0},{"i":324.95,"r":54.0}
],
"levels": [
{"p":1091.71,"i0":309.7,"k":"res"},{"p":1026.56,"i0":297.8,"k":"sup"},{"p":994.60,"i0":270.8,"k":"sup"},{"p":942.60,"i0":216.9,"k":"sup"},{"p":917.06,"i0":153.8,"k":"sup"},{"p":882.25,"i0":71.8,"k":"sup"}
],
"trend": [
{"id":"up","i":36.93,"p":930.3},{"id":"up","i":343.7,"p":1087.8},
{"id":"lo","i":78.6,"p":865.4},{"id":"lo","i":361.15,"p":998.9},
{"id":"tl","i":257.7,"p":942.5},{"id":"tl","i":339.9,"p":1083.3}
],
"labels": [
{"p":1091.71,"t":"1091.71","k":"res"},{"p":1063.22,"t":"1063.22","k":"last"},{"p":1042.77,"t":"1042.77","k":"ema50"},{"p":1026.56,"t":"1026.56","k":"sup"},{"p":994.60,"t":"994.60","k":"sup"},{"p":993.89,"t":"993.89","k":"ema200"},{"p":942.60,"t":"942.60","k":"sup"},{"p":917.06,"t":"917.06","k":"sup"},{"p":882.25,"t":"882.25","k":"sup"}
],
"rsiLevels": [{"v":70},{"v":50},{"v":30}]
},
"vconcat": [
{
"width": 1721,
"height": 835,
"layer": [
{"data": {"name": "candles"}, "mark": {"type": "rule", "strokeWidth": 1, "clip": true},
 "encoding": {
  "x": {"field": "i", "type": "quantitative", "title": null, "scale": {"domain": [-0.4, 361.15], "nice": false, "zero": false},
        "axis": {"values": [30, 72, 116, 161, 202, 243, 285, 327, 358], "labels": false, "ticks": false, "grid": true, "domain": false}},
  "y": {"field": "l", "type": "quantitative", "title": null, "scale": {"type": "log", "domain": [855.85, 1117.72], "nice": false},
        "axis": {"orient": "right", "values": [865, 879, 893, 909, 925, 942, 960, 980, 1000, 1020, 1040, 1060, 1080, 1100], "format": ".2f", "labelPadding": 12, "labelFontSize": 17, "labelOverlap": false, "labelFlush": false, "labelBaseline": "middle", "grid": true, "zindex": 0}},
  "y2": {"field": "h"},
  "color": {"condition": {"test": "datum.c >= datum.o", "value": "#2c9e80"}, "value": "#e8243f"}}},
{"data": {"name": "candles"}, "mark": {"type": "bar", "width": 3.2, "clip": true},
 "encoding": {
  "x": {"field": "i", "type": "quantitative", "title": null},
  "y": {"field": "o", "type": "quantitative", "title": null},
  "y2": {"field": "c"},
  "color": {"condition": {"test": "datum.c >= datum.o", "value": "#2c9e80"}, "value": "#e8243f"}}},
{"data": {"name": "ema200"}, "mark": {"type": "line", "color": "#e8234a", "strokeWidth": 2.6, "interpolate": "monotone", "clip": true},
 "encoding": {"x": {"field": "i", "type": "quantitative", "title": null}, "y": {"field": "v", "type": "quantitative", "title": null}}},
{"data": {"name": "ema50"}, "mark": {"type": "line", "color": "#4499f2", "strokeWidth": 2, "interpolate": "monotone", "clip": true},
 "encoding": {"x": {"field": "i", "type": "quantitative", "title": null}, "y": {"field": "v", "type": "quantitative", "title": null}}},
{"data": {"name": "levels"}, "mark": {"type": "rule", "strokeWidth": 3, "clip": true},
 "encoding": {"x": {"field": "i0", "type": "quantitative", "title": null}, "x2": {"datum": 361.15}, "y": {"field": "p", "type": "quantitative", "title": null},
  "color": {"condition": {"test": "datum.k == 'res'", "value": "#e8243f"}, "value": "#4cc97b"}}},
{"data": {"name": "trend"}, "transform": [{"filter": "datum.id != 'tl'"}], "mark": {"type": "line", "color": "#ff9800", "strokeWidth": 3.5, "strokeDash": [19, 25], "clip": true},
 "encoding": {"x": {"field": "i", "type": "quantitative", "title": null}, "y": {"field": "p", "type": "quantitative", "title": null}, "detail": {"field": "id"}}},
{"data": {"name": "trend"}, "transform": [{"filter": "datum.id == 'tl'"}], "mark": {"type": "line", "color": "#5dd08a", "strokeWidth": 1, "clip": true},
 "encoding": {"x": {"field": "i", "type": "quantitative", "title": null}, "y": {"field": "p", "type": "quantitative", "title": null}}},
{"data": {"values": [{}]}, "mark": {"type": "rule", "color": "#2c9e80", "strokeWidth": 1, "strokeDash": [1, 3]},
 "encoding": {"x": {"datum": -0.1, "type": "quantitative"}, "x2": {"datum": 361.15}, "y": {"datum": 1063.22, "type": "quantitative"}}},
{"data": {"values": [{}]}, "mark": {"type": "rule", "color": "#e0e3eb", "strokeWidth": 1.5},
 "encoding": {"x": {"datum": -0.1, "type": "quantitative"}, "x2": {"datum": 379.3}, "y": {"datum": 855.85, "type": "quantitative"}}},
{"data": {"name": "labels"}, "transform": [{"filter": "datum.p >= 1000"}], "mark": {"type": "point", "shape": "M0,-1H6.31V1H0Z", "size": 676, "filled": true, "opacity": 1, "strokeWidth": 0},
 "encoding": {"x": {"datum": 361.15, "type": "quantitative"}, "y": {"field": "p", "type": "quantitative", "title": null},
  "color": {"condition": [{"test": "datum.k == 'res' || datum.k == 'ema200'", "value": "#e8234a"}, {"test": "datum.k == 'last'", "value": "#349c7f"}, {"test": "datum.k == 'ema50'", "value": "#4499f2"}], "value": "#4cc97b"}}},
{"data": {"name": "labels"}, "transform": [{"filter": "datum.p < 1000 && datum.k != 'ema200'"}], "mark": {"type": "point", "shape": "M0,-1H5.46V1H0Z", "size": 676, "filled": true, "opacity": 1, "strokeWidth": 0},
 "encoding": {"x": {"datum": 361.15, "type": "quantitative"}, "y": {"field": "p", "type": "quantitative", "title": null},
  "color": {"value": "#4cc97b"}}},
{"data": {"name": "labels"}, "transform": [{"filter": "datum.k == 'ema200'"}], "mark": {"type": "point", "shape": "M0,-1H5.46V1H0Z", "size": 676, "filled": true, "opacity": 1, "strokeWidth": 0, "yOffset": 23.2},
 "encoding": {"x": {"datum": 361.15, "type": "quantitative"}, "y": {"field": "p", "type": "quantitative", "title": null},
  "color": {"value": "#e8234a"}}},
{"data": {"name": "labels"}, "transform": [{"filter": "datum.k != 'ema200'"}], "mark": {"type": "text", "align": "left", "baseline": "middle", "dx": 12, "fontSize": 17},
 "encoding": {"x": {"datum": 361.15, "type": "quantitative"}, "y": {"field": "p", "type": "quantitative", "title": null}, "text": {"field": "t"},
  "color": {"condition": {"test": "datum.k == 'sup'", "value": "#131722"}, "value": "#ffffff"}}},
{"data": {"name": "labels"}, "transform": [{"filter": "datum.k == 'ema200'"}], "mark": {"type": "text", "align": "left", "baseline": "middle", "dx": 12, "fontSize": 17, "yOffset": 23.2, "color": "#ffffff"},
 "encoding": {"x": {"datum": 361.15, "type": "quantitative"}, "y": {"field": "p", "type": "quantitative", "title": null}, "text": {"field": "t"}}},
{"data": {"values": [{}]}, "mark": {"type": "text", "align": "left", "baseline": "middle", "fontSize": 17.6, "color": "#131722", "text": "AMS EOE Index · 1D · FTA"},
 "encoding": {"x": {"datum": 0.75, "type": "quantitative"}, "y": {"datum": 1110.85, "type": "quantitative"}}},
{"data": {"values": [{}]}, "mark": {"type": "text", "align": "left", "baseline": "middle", "fontSize": 13.5, "color": "#131722", "text": "O"},
 "encoding": {"x": {"datum": 45.15, "type": "quantitative"}, "y": {"datum": 1110.85, "type": "quantitative"}}},
{"data": {"values": [{}]}, "mark": {"type": "text", "align": "left", "baseline": "middle", "fontSize": 14.5, "color": "#2c9e80", "text": "1062.87"},
 "encoding": {"x": {"datum": 47.39, "type": "quantitative"}, "y": {"datum": 1110.85, "type": "quantitative"}}},
{"data": {"values": [{}]}, "mark": {"type": "text", "align": "left", "baseline": "middle", "fontSize": 13.5, "color": "#131722", "text": "H"},
 "encoding": {"x": {"datum": 60.23, "type": "quantitative"}, "y": {"datum": 1110.85, "type": "quantitative"}}},
{"data": {"values": [{}]}, "mark": {"type": "text", "align": "left", "baseline": "middle", "fontSize": 14.5, "color": "#2c9e80", "text": "1065.55"},
 "encoding": {"x": {"datum": 62.48, "type": "quantitative"}, "y": {"datum": 1110.85, "type": "quantitative"}}},
{"data": {"values": [{}]}, "mark": {"type": "text", "align": "left", "baseline": "middle", "fontSize": 13.5, "color": "#131722", "text": "L"},
 "encoding": {"x": {"datum": 75.23, "type": "quantitative"}, "y": {"datum": 1110.85, "type": "quantitative"}}},
{"data": {"values": [{}]}, "mark": {"type": "text", "align": "left", "baseline": "middle", "fontSize": 14.5, "color": "#2c9e80", "text": "1061.15"},
 "encoding": {"x": {"datum": 76.89, "type": "quantitative"}, "y": {"datum": 1110.85, "type": "quantitative"}}},
{"data": {"values": [{}]}, "mark": {"type": "text", "align": "left", "baseline": "middle", "fontSize": 13.5, "color": "#131722", "text": "C"},
 "encoding": {"x": {"datum": 89.49, "type": "quantitative"}, "y": {"datum": 1110.85, "type": "quantitative"}}},
{"data": {"values": [{}]}, "mark": {"type": "text", "align": "left", "baseline": "middle", "fontSize": 14.5, "color": "#2c9e80", "text": "1063.22"},
 "encoding": {"x": {"datum": 91.74, "type": "quantitative"}, "y": {"datum": 1110.85, "type": "quantitative"}}},
{"data": {"values": [{}]}, "mark": {"type": "text", "align": "left", "baseline": "middle", "fontSize": 14.3, "color": "#131722", "text": "EMA 50 close 0"},
 "encoding": {"x": {"datum": 0.85, "type": "quantitative"}, "y": {"datum": 1102.57, "type": "quantitative"}}},
{"data": {"values": [{}]}, "mark": {"type": "text", "align": "left", "baseline": "middle", "fontSize": 14.5, "color": "#4499f2", "text": "1042.77"},
 "encoding": {"x": {"datum": 23.61, "type": "quantitative"}, "y": {"datum": 1102.57, "type": "quantitative"}}},
{"data": {"values": [{}]}, "mark": {"type": "text", "align": "left", "baseline": "middle", "fontSize": 14.3, "color": "#131722", "text": "EMA 200 close 0"},
 "encoding": {"x": {"datum": 0.85, "type": "quantitative"}, "y": {"datum": 1094.14, "type": "quantitative"}}},
{"data": {"values": [{}]}, "mark": {"type": "text", "align": "left", "baseline": "middle", "fontSize": 14.5, "color": "#ef2f4b", "text": "993.89"},
 "encoding": {"x": {"datum": 25.34, "type": "quantitative"}, "y": {"datum": 1094.14, "type": "quantitative"}}},
{"data": {"values": [{}]}, "mark": {"type": "rect", "fill": "#ffffff", "stroke": "#dcdfe6", "strokeWidth": 1, "cornerRadius": 3},
 "encoding": {"x": {"datum": 1.26, "type": "quantitative"}, "x2": {"datum": 7.1}, "y": {"datum": 1089.5, "type": "quantitative"}, "y2": {"datum": 1082.6}}},
{"data": {"values": [{}]}, "mark": {"type": "point", "shape": "M-1,0.5L0,-0.5L1,0.5", "size": 44, "filled": false, "stroke": "#131722", "strokeWidth": 1.5, "opacity": 1},
 "encoding": {"x": {"datum": 4.18, "type": "quantitative"}, "y": {"datum": 1085.8, "type": "quantitative"}}}
]
},
{
"width": 1721,
"height": 154,
"layer": [
{"data": {"values": [{}]}, "mark": {"type": "rect", "color": "#7e57c2", "opacity": 0.1},
 "encoding": {"x": {"datum": -0.4, "type": "quantitative", "scale": {"domain": [-0.4, 361.15], "nice": false, "zero": false}}, "x2": {"datum": 361.15},
  "y": {"datum": 70, "type": "quantitative", "scale": {"type": "log", "domain": [13.62, 99.1], "nice": false}}, "y2": {"datum": 30}}},
{"data": {"name": "rsiLevels"}, "mark": {"type": "rule", "color": "#787b86", "strokeWidth": 1, "strokeDash": [5, 4]},
 "encoding": {"x": {"datum": -0.1, "type": "quantitative"}, "x2": {"datum": 361.15}, "y": {"field": "v", "type": "quantitative", "title": null}}},
{"data": {"name": "rsi"}, "mark": {"type": "line", "color": "#7e57c2", "strokeWidth": 1.2, "clip": true},
 "encoding": {
  "x": {"field": "i", "type": "quantitative", "title": null, "scale": {"domain": [-0.4, 361.15], "nice": false, "zero": false},
        "axis": {"values": [30, 72, 116, 161, 202, 243, 285, 327, 358], "labelExpr": "datum.value==30?'May':datum.value==72?'Jul':datum.value==116?'Sep':datum.value==161?'Nov':datum.value==202?'2026':datum.value==243?'Mar':datum.value==285?'May':datum.value==327?'Jul':'Aug'",
                 "labelFontSize": 16, "labelPadding": 9, "labelBaseline": "top", "labelFlush": false, "labelOverlap": false, "labelFontWeight": {"condition": {"test": "datum.value == 202", "value": "bold"}, "value": "normal"},
                 "ticks": false, "grid": true, "domain": false}},
  "y": {"field": "r", "type": "quantitative", "title": null, "scale": {"type": "log", "domain": [13.62, 99.1], "nice": false},
        "axis": {"orient": "right", "values": [15, 35, 75], "format": ".2f", "labelPadding": 12, "labelFontSize": 17, "labelOverlap": false, "labelFlush": false, "labelBaseline": "middle", "grid": true, "zindex": 0}}}},
{"data": {"values": [{}]}, "mark": {"type": "rect", "color": "#ffffff", "opacity": 0.7},
 "encoding": {"x": {"datum": -0.1, "type": "quantitative"}, "x2": {"datum": 21.0}, "y": {"datum": 84.9, "type": "quantitative"}, "y2": {"datum": 67.8}}},
{"data": {"values": [{}]}, "mark": {"type": "rule", "color": "#e0e3eb", "strokeWidth": 1.5},
 "encoding": {"x": {"datum": -0.1, "type": "quantitative"}, "x2": {"datum": 379.3}, "y": {"datum": 13.62, "type": "quantitative"}}},
{"data": {"values": [{}]}, "mark": {"type": "point", "shape": "M0,-1H4.85V1H0Z", "size": 676, "filled": true, "opacity": 1, "strokeWidth": 0, "color": "#7e57c2"},
 "encoding": {"x": {"datum": 361.15, "type": "quantitative"}, "y": {"datum": 54, "type": "quantitative"}}},
{"data": {"values": [{}]}, "mark": {"type": "text", "align": "left", "baseline": "middle", "dx": 12, "fontSize": 17, "color": "#ffffff", "text": "54.00"},
 "encoding": {"x": {"datum": 361.15, "type": "quantitative"}, "y": {"datum": 54, "type": "quantitative"}}},
{"data": {"values": [{}]}, "mark": {"type": "text", "align": "left", "baseline": "middle", "fontSize": 14.5, "color": "#131722", "text": "RSI 14"},
 "encoding": {"x": {"datum": 1.09, "type": "quantitative"}, "y": {"datum": 79.0, "type": "quantitative"}}},
{"data": {"values": [{}]}, "mark": {"type": "text", "align": "left", "baseline": "middle", "fontSize": 14.5, "color": "#7e57c2", "text": "54.00"},
 "encoding": {"x": {"datum": 12.14, "type": "quantitative"}, "y": {"datum": 79.0, "type": "quantitative"}}},
{"data": {"values": [{}]}, "mark": {"type": "point", "shape": "M-1,0L-0.5,-0.866L0.5,-0.866L1,0L0.5,0.866L-0.5,0.866Z", "size": 225, "filled": false, "stroke": "#131722", "strokeWidth": 1.3, "opacity": 1},
 "encoding": {"x": {"datum": 370.4, "type": "quantitative"}, "y": {"datum": 10.8, "type": "quantitative"}}},
{"data": {"values": [{}]}, "mark": {"type": "point", "shape": "circle", "size": 16, "filled": false, "stroke": "#131722", "strokeWidth": 1.2, "opacity": 1},
 "encoding": {"x": {"datum": 370.4, "type": "quantitative"}, "y": {"datum": 10.8, "type": "quantitative"}}}
]
}
]
}
